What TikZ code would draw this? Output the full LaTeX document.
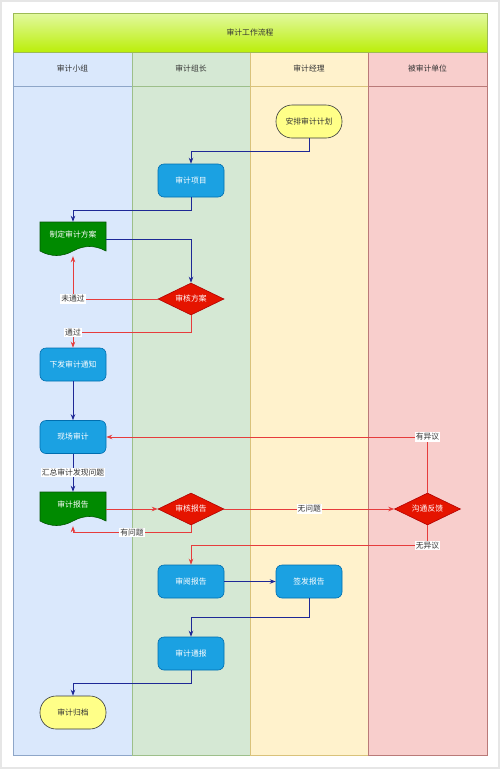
\documentclass[tikz,border=0pt]{standalone}
\usepackage{fontspec}
\setmainfont{Noto Sans CJK SC}
\usepackage{tikz}
\usetikzlibrary{shapes, arrows.meta}

\definecolor{laneblue}{HTML}{DAE8FC}
\definecolor{lanegreen}{HTML}{D5E8D4}
\definecolor{laneyellow}{HTML}{FFF2CC}
\definecolor{lanered}{HTML}{F8CECC}
\definecolor{lineblue}{HTML}{8EA6C8}
\definecolor{linegreen}{HTML}{9DBF8A}
\definecolor{lineyellow}{HTML}{D9C27A}
\definecolor{linered}{HTML}{B97A78}
\definecolor{titletop}{HTML}{E2F9A0}
\definecolor{titlebottom}{HTML}{BBEE0A}
\definecolor{titleline}{HTML}{9DBB55}
\definecolor{taskblue}{HTML}{1BA1E2}
\definecolor{taskline}{HTML}{006EAF}
\definecolor{termyellow}{HTML}{FFFF88}
\definecolor{termline}{HTML}{36393D}
\definecolor{docgreen}{HTML}{008A00}
\definecolor{docline}{HTML}{005700}
\definecolor{decred}{HTML}{E51400}
\definecolor{decline}{HTML}{B20000}
\definecolor{flownavy}{HTML}{1E2896}
\definecolor{flowred}{HTML}{E63C3C}
\definecolor{textgray}{HTML}{333333}
\definecolor{pagegray}{HTML}{E6E6E6}

% wavy document outline round a centre (x,y), 66 wide, 34 high
\newcommand{\docshape}[2]{\filldraw[docfill] (#1-33,#2-17) -- (#1+33,#2-17) -- (#1+33,#2+12) .. controls (#1+22,#2+6) and (#1+11,#2+6) .. (#1,#2+12) .. controls (#1-11,#2+18) and (#1-22,#2+18) .. (#1-33,#2+12) -- cycle;}

\begin{document}
\begin{tikzpicture}[x=1pt,y=-1pt,font=\fontsize{7.8}{9}\selectfont]
\tikzstyle{lanetext}=[text=textgray]
\tikzstyle{task}=[rectangle, rounded corners=6pt, minimum width=66pt, minimum height=33pt, inner sep=0pt, fill=taskblue, draw=taskline, line width=0.6pt, text=white]
\tikzstyle{term}=[rectangle, rounded corners=16pt, minimum width=66pt, minimum height=33pt, inner sep=0pt, fill=termyellow, draw=termline, line width=0.6pt, text=textgray]
\tikzstyle{doc}=[rectangle, minimum width=66pt, minimum height=34pt, inner sep=0pt, text height=6pt, text depth=8.5pt, text=white]
\tikzstyle{docfill}=[fill=docgreen, draw=docline, line width=0.6pt]
\tikzstyle{decision}=[diamond, aspect=2, minimum width=66pt, minimum height=32pt, inner sep=0pt, fill=decred, draw=decline, line width=0.6pt, text=white]
\tikzstyle{flow}=[draw=flownavy, line width=0.8pt, -{Stealth[length=6pt,width=4.5pt]}]
\tikzstyle{redflow}=[draw=flowred, line width=0.8pt, -{Stealth[length=6pt,width=4.5pt]}]
\tikzstyle{edgelabel}=[fill=white, inner sep=1pt, text=textgray]

\useasboundingbox (0,0) rectangle (500,769);
\fill[white] (0,0) rectangle (500,769);
\draw[pagegray, line width=1.5pt] (1,1) rectangle (499,768);

% swimlanes
\filldraw[fill=laneblue, draw=lineblue, line width=0.6pt] (13,52) rectangle (132,755);
\filldraw[fill=lanegreen, draw=linegreen, line width=0.6pt] (132,52) rectangle (250,755);
\filldraw[fill=laneyellow, draw=lineyellow, line width=0.6pt] (250,52) rectangle (368,755);
\filldraw[fill=lanered, draw=linered, line width=0.6pt] (368,52) rectangle (487,755);
\draw[lineblue, line width=0.6pt] (13,86) -- (132,86);
\draw[linegreen, line width=0.6pt] (132,86) -- (250,86);
\draw[lineyellow, line width=0.6pt] (250,86) -- (368,86);
\draw[linered, line width=0.6pt] (368,86) -- (487,86);
\shade[top color=titletop, bottom color=titlebottom] (13,13) rectangle (487,52);
\draw[titleline, line width=0.6pt] (13,13) rectangle (487,52);

\node[lanetext] (title) at (250,33) {审计工作流程};
\node[lanetext] (team) at (72.5,69) {审计小组};
\node[lanetext] (leader) at (191,69) {审计组长};
\node[lanetext] (manager) at (309,69) {审计经理};
\node[lanetext] (auditee) at (427.5,69) {被审计单位};

% shapes
\docshape{73}{239}
\docshape{73}{509}
\node[term] (plan) at (309,121.5) {安排审计计划};
\node[task] (project) at (191,180.5) {审计项目};
\node[doc] (scheme) at (73,239) {制定审计方案};
\node[decision] (schemecheck) at (191,299) {审核方案};
\node[task] (notice) at (73,364.5) {下发审计通知};
\node[task] (fieldwork) at (73,437) {现场审计};
\node[doc] (report) at (73,509) {审计报告};
\node[decision] (reportcheck) at (191,509) {审核报告};
\node[decision] (feedback) at (427.5,509) {沟通反馈};
\node[task] (reading) at (191,581.5) {审阅报告};
\node[task] (signing) at (309,581.5) {签发报告};
\node[task] (bulletin) at (191,653.5) {审计通报};
\node[term] (archive) at (73,712.5) {审计归档};

% connectors
\draw[flow] (plan.south) -- ++(0,13.5) -| (project.north);
\draw[flow] (project.south) -- ++(0,13) -| (scheme.north);
\draw[flow] (scheme.east) -| (schemecheck.north);
\draw[redflow] (schemecheck.west) -| node[edgelabel, pos=0.5] {未通过} (scheme.south);
\draw[redflow] (schemecheck.south) -- ++(0,17) -| node[edgelabel, pos=0.5] {通过} (notice.north);
\draw[flow] (notice.south) -- (fieldwork.north);
\draw[flow] (fieldwork.south) -- node[edgelabel] {汇总审计发现问题} (report.north);
\draw[redflow] (report.east) -- (reportcheck.west);
\draw[redflow] (reportcheck.south) -- ++(0,7) -| node[edgelabel, pos=0.25] {有问题} (report.south);
\draw[redflow] (reportcheck.east) -- node[edgelabel] {无问题} (feedback.west);
\draw[redflow] (feedback.north) |- node[edgelabel, pos=0.5] {有异议} (fieldwork.east);
\draw[redflow] (feedback.south) -- ++(0,20) node[edgelabel] {无异议} -| (reading.north);
\draw[flow] (reading.east) -- (signing.west);
\draw[flow] (signing.south) -- ++(0,19.5) -| (bulletin.north);
\draw[flow] (bulletin.south) -- ++(0,13.5) -| (archive.north);

\end{tikzpicture}
\end{document}
